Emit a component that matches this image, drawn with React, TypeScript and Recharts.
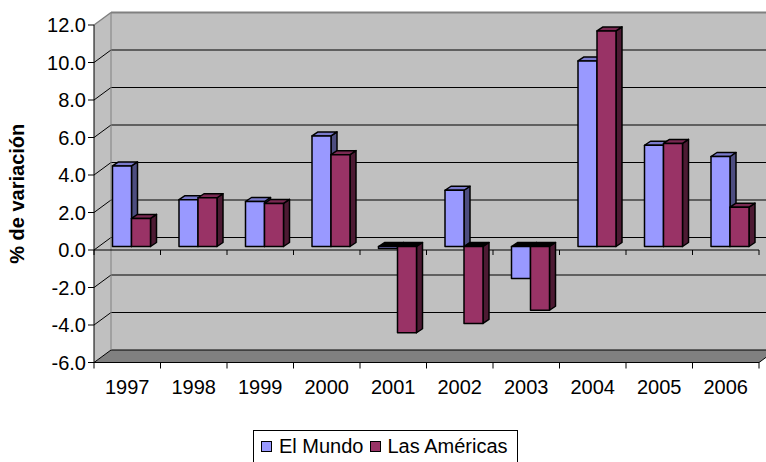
import React from 'react';
import { BarChart, Bar, XAxis, YAxis, Legend, Label, Customized } from 'recharts';

const years = ['1997', '1998', '1999', '2000', '2001', '2002', '2003', '2004', '2005', '2006'];
const elMundo = [4.3, 2.5, 2.4, 5.9, -0.1, 3.0, -1.7, 9.9, 5.4, 4.8];
const lasAmericas = [1.5, 2.6, 2.3, 4.9, -4.6, -4.1, -3.4, 11.5, 5.5, 2.1];
const yTicks = [-6, -4, -2, 0, 2, 4, 6, 8, 10, 12];

const data = years.map((year, i) => ({ year, mundo: elMundo[i], americas: lasAmericas[i] }));

// layout of the front plane (plot area) and the 3D depth offset
const W = 766;
const H = 462;
const PL = 94;
const PT = 25;
const PR = 759;
const PB = 362.5;
const DX = 17;
const DY = -12.5;
const Y_MIN = -6;
const Y_MAX = 12;
const yOf = (v: number) => PT + ((Y_MAX - v) / (Y_MAX - Y_MIN)) * (PB - PT);

// bars sit a little behind the front plane
const BAR_SHIFT_X = 4.5;
const BAR_SHIFT_Y = -3.5;
const BAR_DX = 6;
const BAR_DY = -4;

const FONT = '"Liberation Sans", Arial, sans-serif';
const FS = 20;

const Walls = () => {
  const grid = yTicks.filter((t) => t > Y_MIN && t < Y_MAX);
  const step = (PR - PL) / years.length;
  const bounds = years.map((_, i) => PL + i * step).concat([PR]);
  const zy = yOf(0);
  return (
    <g>
      <rect x={PL + DX} y={PT + DY} width={W} height={PB - PT} fill="#C0C0C0" />
      <polygon
        points={`${PL},${PT} ${PL + DX},${PT + DY} ${PL + DX},${PB + DY} ${PL},${PB}`}
        fill="#C0C0C0"
      />
      <polygon
        points={`${PL},${PB} ${PL + DX},${PB + DY} ${PR + DX},${PB + DY} ${PR},${PB}`}
        fill="#808080"
        stroke="#000"
        strokeWidth={1}
      />
      {grid.map((t) => (
        <g key={t}>
          <line x1={PL} y1={yOf(t)} x2={PL + DX} y2={yOf(t) + DY} stroke="#000" strokeWidth={1} />
          <line x1={PL + DX} y1={yOf(t) + DY} x2={W} y2={yOf(t) + DY} stroke="#000" strokeWidth={1} />
        </g>
      ))}
      <line x1={PL} y1={PT} x2={PL + DX} y2={PT + DY} stroke="#808080" strokeWidth={1.5} />
      <line x1={PL + DX} y1={PT + DY} x2={W} y2={PT + DY} stroke="#808080" strokeWidth={2} />
      <line x1={PL + DX} y1={PT + DY} x2={PL + DX} y2={PB + DY} stroke="#808080" strokeWidth={1} />
      <line x1={PL} y1={zy} x2={PR} y2={zy} stroke="#000" strokeWidth={1} />
      {bounds.map((bx, i) => (
        <g key={i}>
          <line x1={bx} y1={zy} x2={bx} y2={zy + 5} stroke="#000" strokeWidth={1} />
          <line x1={bx} y1={PB} x2={bx} y2={PB + 6} stroke="#000" strokeWidth={1} />
        </g>
      ))}
    </g>
  );
};

const makeShape = (front: string, top: string, side: string) => (props: any) => {
  const { x, y, width, height, value } = props;
  const v = Array.isArray(value) ? value[1] : value;
  const y1 = Math.min(y, y + height);
  const y2 = Math.max(y, y + height);
  const x0 = x + BAR_SHIFT_X;
  const x1 = x0 + width;
  const t = y1 + BAR_SHIFT_Y;
  const b = y2 + BAR_SHIFT_Y;
  const topFill = v < 0 ? '#000' : top;
  return (
    <g stroke="#000" strokeWidth={1.5} strokeLinejoin="round">
      <polygon points={`${x1},${t} ${x1 + BAR_DX},${t + BAR_DY} ${x1 + BAR_DX},${b + BAR_DY} ${x1},${b}`} fill={side} />
      <polygon points={`${x0},${t} ${x0 + BAR_DX},${t + BAR_DY} ${x1 + BAR_DX},${t + BAR_DY} ${x1},${t}`} fill={topFill} />
      <rect x={x0} y={t} width={width} height={Math.max(b - t, 0.5)} fill={front} />
    </g>
  );
};

const swatch = (color: string, ml: number) => (
  <span
    style={{
      width: 11,
      height: 11,
      boxSizing: 'border-box',
      border: '1px solid #000',
      background: color,
      display: 'inline-block',
      marginLeft: ml,
      flex: 'none',
    }}
  />
);

const LegendBox = () => (
  <div
    style={{
      border: '1px solid #000',
      background: '#fff',
      height: 34,
      boxSizing: 'border-box',
      display: 'flex',
      alignItems: 'center',
      paddingLeft: 7,
      paddingBottom: 2,
      fontFamily: FONT,
      fontSize: FS,
      color: '#000',
      whiteSpace: 'nowrap',
    }}
  >
    {swatch('#9999FF', 0)}
    <span style={{ marginLeft: 7 }}>El Mundo</span>
    {swatch('#993366', 6)}
    <span style={{ marginLeft: 7 }}>Las Américas</span>
  </div>
);

export default function App() {
  return (
    <div style={{ position: 'absolute', left: 0, top: 0, width: W, height: H, background: '#fff', overflow: 'hidden' }}>
      <BarChart
        width={W}
        height={H}
        data={data}
        margin={{ top: PT, right: W - PR, left: 0, bottom: H - PB - 40 }}
        barSize={19}
        barGap={0}
      >
        <Customized component={<Walls />} />
        <XAxis
          dataKey="year"
          height={40}
          axisLine={false}
          tickLine={false}
          tickSize={6}
          tickMargin={11}
          tick={{ fill: '#000', fontSize: FS, fontFamily: FONT }}
          interval={0}
        />
        <YAxis
          width={PL}
          domain={[Y_MIN, Y_MAX]}
          ticks={yTicks}
          interval={0}
          allowDataOverflow
          tickFormatter={(v: number) => v.toFixed(1)}
          axisLine={{ stroke: '#000' }}
          tickLine={{ stroke: '#000' }}
          tickSize={6}
          tick={{ fill: '#000', fontSize: FS, fontFamily: FONT }}
        >
          <Label
            value="% de variación"
            angle={-90}
            position="insideLeft"
            offset={17}
            style={{ textAnchor: 'middle', fontWeight: 'bold', fontSize: 20, fontFamily: FONT, fill: '#000' }}
          />
        </YAxis>
        <Legend
          layout="horizontal"
          verticalAlign="middle"
          align="center"
          content={<LegendBox />}
          wrapperStyle={{ left: 253, top: 430, width: 265, height: 34 }}
        />
        <Bar
          dataKey="mundo"
          name="El Mundo"
          fill="#9999FF"
          isAnimationActive={false}
          shape={makeShape('#9999FF', '#7A7ACC', '#4D4D80')}
        />
        <Bar
          dataKey="americas"
          name="Las Américas"
          fill="#993366"
          isAnimationActive={false}
          shape={makeShape('#993366', '#7A2952', '#4D1A33')}
        />
      </BarChart>
    </div>
  );
}
